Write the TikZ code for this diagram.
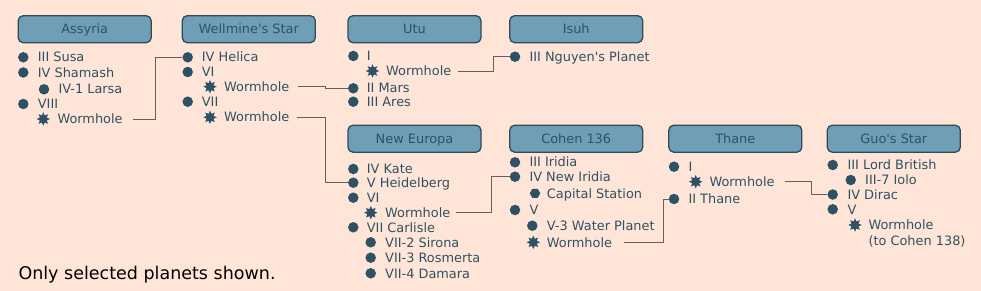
\documentclass[tikz,border=0pt]{standalone}
\usepackage{fontspec}
\setmainfont{DejaVu Sans}[Ligatures=TeXOff]
\usetikzlibrary{shapes.geometric}
\definecolor{bgc}{HTML}{FFE5D8}
\definecolor{tcol}{HTML}{2E5263}
\definecolor{boxfill}{HTML}{6E9FB7}
\definecolor{boxline}{HTML}{2F4A58}
\definecolor{conncol}{HTML}{6E5D58}
\tikzset{
  titlebox/.style={draw=boxline, fill=boxfill, line width=1.3pt, rounded corners=5pt,
    minimum width=133pt, minimum height=27pt, inner sep=0pt, text=tcol,
    text height=9.4pt, text depth=0pt, font=\fontsize{12.9}{15}\selectfont},
  txt/.style={anchor=west, inner sep=0pt, text height=9.4pt, text depth=0pt, text=tcol,
    font=\fontsize{12.9}{15}\selectfont},
  bul/.style={circle, fill=tcol, minimum size=10.5pt, inner sep=0pt},
  wstar/.style={star, star points=8, star point ratio=1.8, fill=tcol, minimum size=13.5pt, inner sep=0pt},
  station/.style={regular polygon, regular polygon sides=6, fill=tcol, minimum size=10.5pt, inner sep=0pt},
  conn/.style={draw=conncol, line width=0.9pt},
}
\begin{document}
\begin{tikzpicture}[x=1pt, y=-1pt]
\fill[bgc] (0,0) rectangle (981,291);
\useasboundingbox (0,0) rectangle (981,291);

% title boxes
\node[titlebox] (tAssyria) at (84.7,29.2) {Assyria};
\node[titlebox] (tWellmine) at (248.8,29.2) {Wellmine's Star};
\node[titlebox] (tUtu) at (414.5,29.2) {Utu};
\node[titlebox] (tIsuh) at (576.2,29.2) {Isuh};
\node[titlebox] (tNewEuropa) at (414.5,138.7) {New Europa};
\node[titlebox] (tCohen) at (576.2,138.7) {Cohen 136};
\node[titlebox] (tThane) at (735.3,138.7) {Thane};
\node[titlebox] (tGuo) at (893.8,138.7) {Guo's Star};

% Assyria
\node[bul] (a1) at (23.3,57.3) {}; \node[txt] (a1t) at (37.7,57.3) {III Susa};
\node[bul] (a2) at (23.3,72.5) {}; \node[txt] (a2t) at (37.7,72.5) {IV Shamash};
\node[bul] (a3) at (44,89.3) {}; \node[txt] (a3t) at (58.3,89.3) {IV-1 Larsa};
\node[bul] (a4) at (23.3,104) {}; \node[txt] (a4t) at (37.7,104) {VIII};
\node[wstar] (aws) at (43.3,119) {}; \node[txt] (aw) at (57.3,119.3) {Wormhole};

% Wellmine's Star
\node[bul] (w1) at (187.7,57.3) {}; \node[txt] (w1t) at (201.7,57.3) {IV Helica};
\node[bul] (w2) at (187.7,72) {}; \node[txt] (w2t) at (201.7,72) {VI};
\node[wstar] (ww1s) at (210,86.7) {}; \node[txt] (ww1) at (224,86.7) {Wormhole};
\node[bul] (w3) at (187.7,101.7) {}; \node[txt] (w3t) at (201.7,101.7) {VII};
\node[wstar] (ww2s) at (210,117.3) {}; \node[txt] (ww2) at (224,117.3) {Wormhole};

% Utu
\node[bul] (u1) at (353.3,56) {}; \node[txt] (u1t) at (366.7,56) {I};
\node[wstar] (uws) at (372.5,71) {}; \node[txt] (uw) at (386,71) {Wormhole};
\node[bul] (u2) at (353.3,88.3) {}; \node[txt] (u2t) at (366.7,88.3) {II Mars};
\node[bul] (u3) at (353.3,101.7) {}; \node[txt] (u3t) at (366.7,101.7) {III Ares};

% Isuh
\node[bul] (i1) at (515,56.7) {}; \node[txt] (i1t) at (529.3,56.7) {III Nguyen's Planet};

% New Europa
\node[bul] (n1) at (353.3,169) {}; \node[txt] (n1t) at (366.7,169) {IV Kate};
\node[bul] (n2) at (353.3,182.7) {}; \node[txt] (n2t) at (366.7,182.7) {V Heidelberg};
\node[bul] (n3) at (353.3,197.7) {}; \node[txt] (n3t) at (366.7,197.7) {VI};
\node[wstar] (nws) at (370.8,212.7) {}; \node[txt] (nw) at (385,212.7) {Wormhole};
\node[bul] (n4) at (353.3,227.3) {}; \node[txt] (n4t) at (366.7,227.3) {VII Carlisle};
\node[bul] (n5) at (370.7,242.3) {}; \node[txt] (n5t) at (385,242.3) {VII-2 Sirona};
\node[bul] (n6) at (370.7,257.7) {}; \node[txt] (n6t) at (385,257.7) {VII-3 Rosmerta};
\node[bul] (n7) at (370.7,273.3) {}; \node[txt] (n7t) at (385,273.3) {VII-4 Damara};

% Cohen 136
\node[bul] (c1) at (515,162.3) {}; \node[txt] (c1t) at (529.3,162.3) {III Iridia};
\node[bul] (c2) at (515,176.7) {}; \node[txt] (c2t) at (529.3,176.7) {IV New Iridia};
\node[station] (cs) at (535,193.3) {}; \node[txt] (cst) at (546.7,193.3) {Capital Station};
\node[bul] (c3) at (515,210) {}; \node[txt] (c3t) at (529.3,210) {V};
\node[bul] (c4) at (532.3,225.7) {}; \node[txt] (c4t) at (546.7,225.7) {V-3 Water Planet};
\node[wstar] (cws) at (533.3,242.3) {}; \node[txt] (cw) at (546.7,242.3) {Wormhole};

% Thane
\node[bul] (t1) at (674,166.7) {}; \node[txt] (t1t) at (688.3,166.7) {I};
\node[wstar] (tws) at (695.7,181.7) {}; \node[txt] (tw) at (709.3,181.7) {Wormhole};
\node[bul] (t2) at (674,199) {}; \node[txt] (t2t) at (688.3,199) {II Thane};

% Guo's Star
\node[bul] (g1) at (832.7,165) {}; \node[txt] (g1t) at (847.3,165) {III Lord British};
\node[bul] (g2) at (850.7,180) {}; \node[txt] (g2t) at (865,180) {III-7 Iolo};
\node[bul] (g3) at (832.7,194.5) {}; \node[txt] (g3t) at (847.3,194.5) {IV Dirac};
\node[bul] (g4) at (832.7,209.3) {}; \node[txt] (g4t) at (847.3,209.3) {V};
\node[wstar] (gws) at (855,225) {}; \node[txt] (gw) at (868.3,225) {Wormhole};
\node[txt] (gw2) at (868.3,240.7) {(to Cohen 138)};

% footnote
\node[anchor=base west, inner sep=0pt, font=\fontsize{17.5}{20}\selectfont] (note) at (18.3,279.3) {Only selected planets shown.};

% vertical routing positions
\coordinate (v1) at (155,0);
\coordinate (v2) at (325,0);
\coordinate (v3) at (493.3,0);
\coordinate (v4) at (491.7,0);
\coordinate (v5) at (663.3,0);
\coordinate (v6) at (811,0);

% connectors
\draw[conn, shorten <=10pt] (aw.east) -| (v1 |- w1.west) -- (w1.west);
\draw[conn, shorten <=8pt] (ww1.east) -| (v2 |- u2.west) -- (u2.west);
\draw[conn, shorten <=7pt] (ww2.east) -| (v2 |- n2.west) -- (n2.west);
\draw[conn, shorten <=6pt] (uw.east) -| (v3 |- i1.west) -- (i1.west);
\draw[conn, shorten <=5pt] (nw.east) -| (v4 |- c2.west) -- (c2.west);
\draw[conn, shorten <=12pt] (cw.east) -| (v5 |- t2.west) -- (t2.west);
\draw[conn, shorten <=10pt] (tw.east) -| (v6 |- g3.west) -- (g3.west);
\end{tikzpicture}
\end{document}
